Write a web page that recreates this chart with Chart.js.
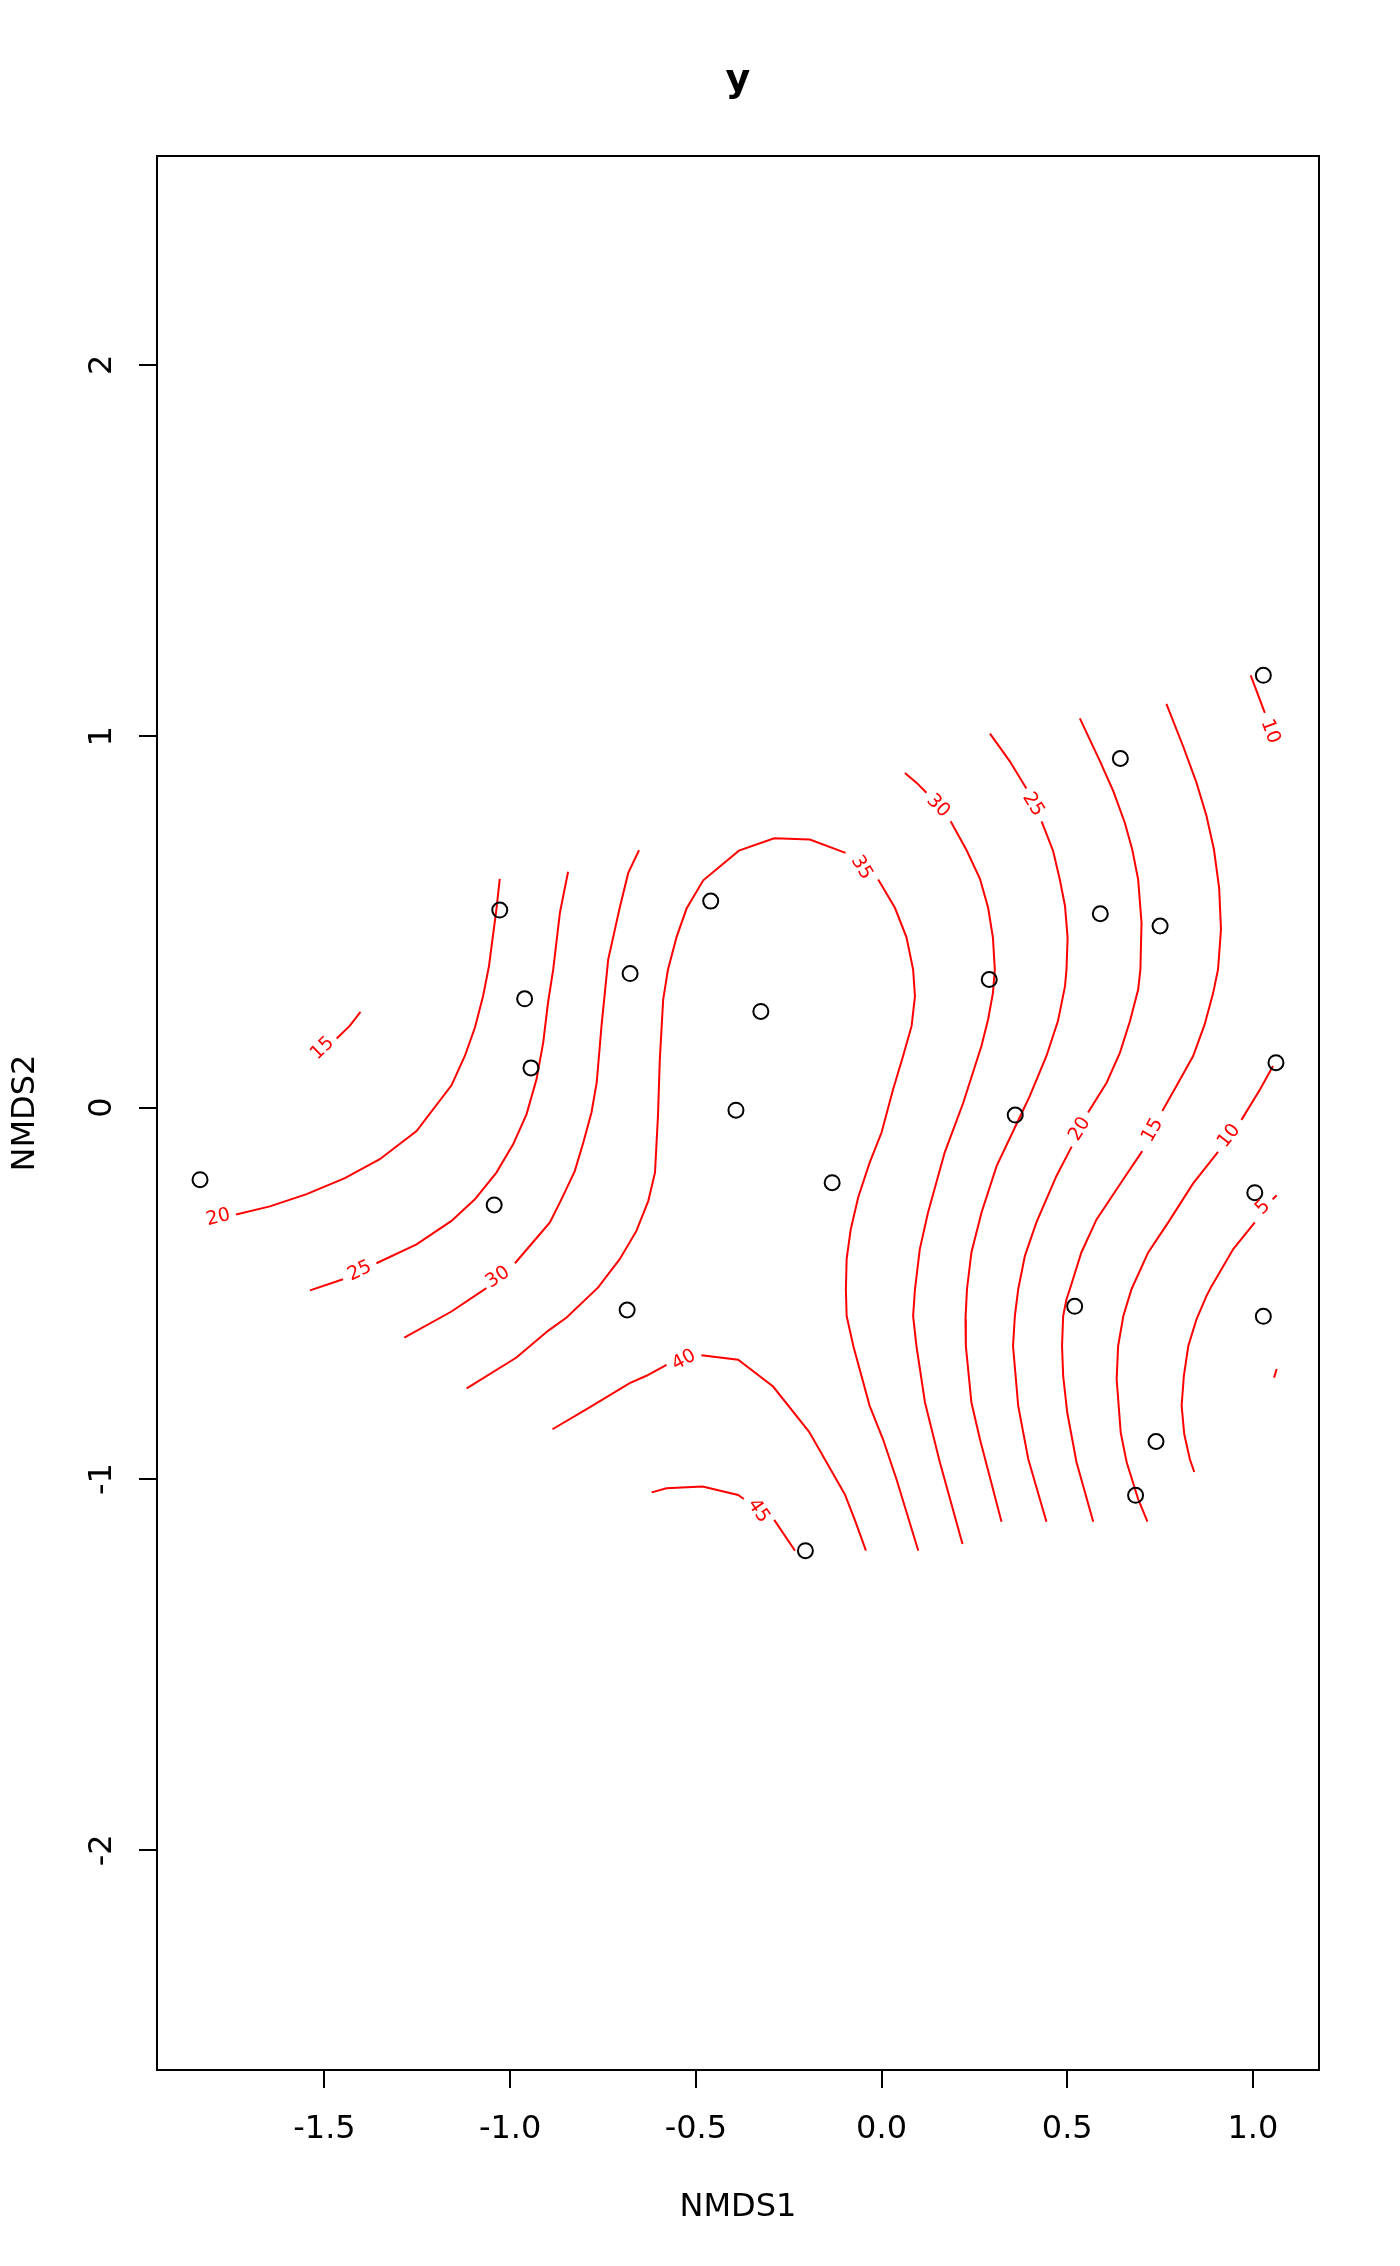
<!DOCTYPE html>
<html>
<head>
<meta charset="utf-8">
<script src="https://cdn.jsdelivr.net/npm/chart.js"></script>
<style>body{margin:0;background:#fff}</style>
</head>
<body>
<canvas id="chart" width="1400" height="2266"></canvas>
<script>
// site scores (NMDS1, NMDS2)
const ptX = [1.028, 0.643, 0.589, 0.750, -1.028, -0.460, -0.677, -0.961, -0.944, -1.835, -1.043, -0.325,
  -0.392, -0.133, 0.290, 0.360, 1.062, 1.005, -0.685, -0.205, 0.520, 1.028, 0.739, 0.684];
const ptY = [1.164, 0.940, 0.522, 0.489, 0.532, 0.556, 0.361, 0.293, 0.107, -0.194, -0.262, 0.259,
  -0.007, -0.202, 0.345, -0.020, 0.121, -0.229, -0.545, -1.193, -0.535, -0.562, -0.899, -1.044];

const xTicks = [-1.5, -1.0, -0.5, 0.0, 0.5, 1.0];
const yTicks = [-2, -1, 0, 1, 2];

// fitted surface contours, split where the labels sit
const lev15a = [[-1.467, 0.186], [-1.432, 0.220], [-1.403, 0.258]];
const lev20L = [[-1.738, -0.288], [-1.647, -0.266], [-1.548, -0.233], [-1.445, -0.190], [-1.351, -0.139],
  [-1.252, -0.063], [-1.158, 0.060], [-1.122, 0.139], [-1.095, 0.215], [-1.073, 0.300], [-1.057, 0.381],
  [-1.037, 0.534], [-1.028, 0.616]];
const lev25La = [[-1.539, -0.492], [-1.450, -0.462]];
const lev25Lb = [[-1.360, -0.419], [-1.252, -0.368], [-1.158, -0.305], [-1.095, -0.247], [-1.037, -0.175],
  [-0.992, -0.099], [-0.956, -0.018], [-0.929, 0.076], [-0.911, 0.175], [-0.898, 0.283], [-0.884, 0.372],
  [-0.866, 0.525], [-0.844, 0.635]];
const lev30La = [[-1.285, -0.619], [-1.158, -0.549], [-1.064, -0.486]];
const lev30Lb = [[-0.987, -0.419], [-0.893, -0.309], [-0.862, -0.247], [-0.826, -0.171], [-0.803, -0.094],
  [-0.781, -0.013], [-0.767, 0.067], [-0.754, 0.220], [-0.736, 0.399], [-0.723, 0.457], [-0.705, 0.538],
  [-0.682, 0.632], [-0.653, 0.693]];
const lev35a = [[-1.117, -0.756], [-0.983, -0.673], [-0.898, -0.601], [-0.848, -0.565], [-0.763, -0.484],
  [-0.705, -0.408], [-0.660, -0.332], [-0.628, -0.251], [-0.610, -0.175], [-0.602, -0.023], [-0.597, 0.130],
  [-0.588, 0.291], [-0.575, 0.372], [-0.552, 0.459], [-0.525, 0.536], [-0.480, 0.612], [-0.384, 0.692],
  [-0.289, 0.725], [-0.193, 0.722], [-0.097, 0.686]];
const lev35b = [[-0.009, 0.614], [0.036, 0.538], [0.067, 0.459], [0.085, 0.372], [0.090, 0.300], [0.081, 0.220],
  [0.058, 0.139], [0.031, 0.049], [0.000, -0.067], [-0.032, -0.148], [-0.063, -0.242], [-0.083, -0.328],
  [-0.094, -0.408], [-0.096, -0.489], [-0.094, -0.561], [-0.076, -0.642], [-0.032, -0.803], [0.004, -0.893],
  [0.040, -1.000], [0.099, -1.193]];
const lev40a = [[-0.886, -0.866], [-0.794, -0.812], [-0.678, -0.742], [-0.633, -0.722], [-0.579, -0.693]];
const lev40b = [[-0.485, -0.667], [-0.386, -0.679], [-0.292, -0.751], [-0.195, -0.873], [-0.099, -1.041],
  [-0.072, -1.110], [-0.042, -1.193]];
const lev45a = [[-0.619, -1.036], [-0.579, -1.025], [-0.482, -1.020], [-0.386, -1.043], [-0.371, -1.054]];
const lev45b = [[-0.289, -1.110], [-0.233, -1.193]];
const lev30Ra = [[0.063, 0.901], [0.094, 0.875], [0.121, 0.848]];
const lev30Rb = [[0.186, 0.771], [0.229, 0.693], [0.265, 0.616], [0.287, 0.538], [0.300, 0.457], [0.305, 0.372],
  [0.300, 0.309], [0.287, 0.238], [0.269, 0.166], [0.220, 0.013], [0.170, -0.121], [0.125, -0.283],
  [0.103, -0.381], [0.090, -0.489], [0.085, -0.561], [0.094, -0.642], [0.117, -0.794], [0.157, -0.955],
  [0.218, -1.175]];
const lev25Ra = [[0.292, 1.007], [0.345, 0.933], [0.390, 0.859]];
const lev25Rb = [[0.431, 0.771], [0.462, 0.691], [0.480, 0.614], [0.494, 0.543], [0.501, 0.457], [0.498, 0.372],
  [0.494, 0.327], [0.475, 0.233], [0.444, 0.139], [0.399, 0.031], [0.375, -0.020], [0.310, -0.157],
  [0.269, -0.283], [0.242, -0.390], [0.230, -0.489], [0.226, -0.570], [0.227, -0.642], [0.242, -0.794],
  [0.265, -0.893], [0.323, -1.115]];
const lev20Ra = [[0.534, 1.048], [0.588, 0.933], [0.624, 0.852], [0.655, 0.767], [0.675, 0.695], [0.691, 0.614],
  [0.700, 0.498], [0.697, 0.372], [0.691, 0.318], [0.669, 0.233], [0.642, 0.148], [0.606, 0.067], [0.556, -0.013]];
const lev20Rb = [[0.512, -0.105], [0.471, -0.184], [0.417, -0.309], [0.386, -0.399], [0.368, -0.489],
  [0.359, -0.561], [0.354, -0.642], [0.368, -0.803], [0.395, -0.946], [0.444, -1.115]];
const lev15Ra = [[0.767, 1.087], [0.812, 0.973], [0.848, 0.875], [0.875, 0.785], [0.895, 0.695], [0.909, 0.592],
  [0.914, 0.480], [0.906, 0.372], [0.893, 0.309], [0.870, 0.224], [0.839, 0.139], [0.794, 0.058], [0.756, -0.009]];
const lev15Rb = [[0.702, -0.117], [0.651, -0.193], [0.579, -0.301], [0.538, -0.390], [0.507, -0.489],
  [0.498, -0.516], [0.489, -0.561], [0.486, -0.642], [0.489, -0.722], [0.500, -0.821], [0.525, -0.955],
  [0.570, -1.115]];
const lev10Ra = [[1.054, 0.112], [1.019, 0.049], [0.969, -0.033]];
const lev10Rb = [[0.906, -0.119], [0.839, -0.204], [0.772, -0.309], [0.718, -0.390], [0.673, -0.489],
  [0.651, -0.561], [0.637, -0.642], [0.633, -0.731], [0.644, -0.875], [0.660, -0.955], [0.691, -1.054],
  [0.716, -1.115]];
const lev10T = [[0.994, 1.164], [1.032, 1.063]];
const lev5a = [[1.053, -0.247], [1.064, -0.236]];
const lev5b = [[1.005, -0.309], [0.947, -0.381], [0.889, -0.480], [0.875, -0.507], [0.848, -0.570],
  [0.826, -0.642], [0.814, -0.722], [0.808, -0.803], [0.815, -0.879], [0.830, -0.946], [0.842, -0.981]];
const lev5c = [[1.057, -0.727], [1.064, -0.704]];

const segs = [lev15a, lev20L, lev25La, lev25Lb, lev30La, lev30Lb, lev35a, lev35b, lev40a, lev40b, lev45a, lev45b,
  lev30Ra, lev30Rb, lev25Ra, lev25Rb, lev20Ra, lev20Rb, lev15Ra, lev15Rb, lev10Ra, lev10Rb, lev10T,
  lev5a, lev5b, lev5c];
const segLevel = ['15', '20', '25', '25', '30', '30', '35', '35', '40', '40', '45', '45',
  '30', '30', '25', '25', '20', '20', '15', '15', '10', '10', '10', '5', '5', '5'];

// contour labels
const labText = ['15', '20', '25', '30', '35', '40', '45', '30', '25', '20', '15', '10', '10', '5'];
const labX = [-1.505, -1.786, -1.405, -1.033, -0.054, -0.532, -0.332, 0.152, 0.408, 0.534, 0.730, 0.936, 1.046, 1.027];
const labY = [0.159, -0.296, -0.440, -0.457, 0.646, -0.680, -1.086, 0.812, 0.816, -0.058, -0.061, -0.076, 1.013, -0.269];

const FONT = 'DejaVu Sans';
const RED = '#ff0000';

// R style axis limits: 4% extension, y stretched for asp = 1
const plotW = 1162, plotH = 1914;
const xPad = (Math.max(...ptX) - Math.min(...ptX)) * 0.04;
const xMin = Math.min(...ptX) - xPad, xMax = Math.max(...ptX) + xPad;
const yMid = (Math.min(...ptY) + Math.max(...ptY)) / 2;
const yHalf = (xMax - xMin) * plotH / plotW / 2;

const datasets = [{
  label: 'sites',
  data: ptX.map((x, i) => ({x: x, y: ptY[i]})),
  pointRadius: 7.5,
  pointBorderWidth: 2,
  pointBorderColor: '#000',
  pointBackgroundColor: 'rgba(0,0,0,0)',
  showLine: false
}];
segs.forEach((s, i) => datasets.push({
  label: 'level ' + segLevel[i],
  data: s.map(p => ({x: p[0], y: p[1]})),
  showLine: true,
  borderColor: RED,
  borderWidth: 2,
  pointRadius: 0,
  tension: 0
}));

// box round the plot region and the title
const frame = {
  id: 'frame',
  afterDraw(chart) {
    const {ctx, chartArea: a} = chart;
    ctx.save();
    ctx.strokeStyle = '#000';
    ctx.lineWidth = 2;
    ctx.strokeRect(a.left, a.top, a.right - a.left, a.bottom - a.top);
    ctx.fillStyle = '#000';
    ctx.font = 'bold 38px "' + FONT + '"';
    ctx.textAlign = 'center';
    ctx.textBaseline = 'alphabetic';
    ctx.fillText('y', (a.left + a.right) / 2, 91);
    ctx.restore();
  }
};

// inline contour labels, turned along the line
const contourLabels = {
  id: 'contourLabels',
  afterDatasetsDraw(chart) {
    const {ctx, scales: {x, y}} = chart;
    ctx.save();
    ctx.fillStyle = RED;
    ctx.font = '19px "' + FONT + '"';
    ctx.textAlign = 'center';
    ctx.textBaseline = 'middle';
    labText.forEach((t, i) => {
      const lx = x.getPixelForValue(labX[i]), ly = y.getPixelForValue(labY[i]);
      let best = null, bd = Infinity;
      segs.forEach((s, j) => {
        if (segLevel[j] !== t) return;
        s.forEach((p, k) => {
          const d = Math.hypot(x.getPixelForValue(p[0]) - lx, y.getPixelForValue(p[1]) - ly);
          if (d < bd) { bd = d; best = [s, k]; }
        });
      });
      let ang = 0;
      if (best) {
        const [s, k] = best;
        const q = k === 0 ? s[1] : s[k - 1];
        const p = s[k];
        ang = Math.atan2(y.getPixelForValue(q[1]) - y.getPixelForValue(p[1]),
          x.getPixelForValue(q[0]) - x.getPixelForValue(p[0]));
        if (ang > Math.PI / 2) ang -= Math.PI;
        if (ang < -Math.PI / 2) ang += Math.PI;
      }
      ctx.save();
      ctx.translate(lx, ly);
      ctx.rotate(ang);
      ctx.fillText(t, 0, 0);
      ctx.restore();
    });
    ctx.restore();
  }
};

new Chart(document.getElementById('chart'), {
  type: 'scatter',
  data: {datasets: datasets},
  plugins: [frame, contourLabels],
  options: {
    responsive: false,
    devicePixelRatio: 1,
    animation: false,
    events: [],
    layout: {padding: {top: 156, right: 81, left: 0, bottom: 0}},
    plugins: {legend: {display: false}, tooltip: {enabled: false}, title: {display: false}},
    scales: {
      x: {
        type: 'linear',
        min: xMin,
        max: xMax,
        afterFit(s) { s.height = 196; },
        afterBuildTicks(s) { s.ticks = xTicks.map(v => ({value: v})); },
        ticks: {
          callback: v => v.toFixed(1),
          font: {family: FONT, size: 32},
          color: '#000',
          padding: 22,
          autoSkip: false,
          maxRotation: 0,
          minRotation: 0
        },
        grid: {drawOnChartArea: false, drawTicks: true, tickLength: 18, color: '#000', lineWidth: 2},
        border: {display: true, color: '#000', width: 2},
        title: {display: true, text: 'NMDS1', color: '#000', font: {family: FONT, size: 32},
          padding: {top: 0, bottom: 39}}
      },
      y: {
        type: 'linear',
        min: yMid - yHalf,
        max: yMid + yHalf,
        afterFit(s) { s.width = 157; },
        afterBuildTicks(s) { s.ticks = yTicks.map(v => ({value: v})); },
        ticks: {
          callback: v => String(v),
          font: {family: FONT, size: 32},
          color: '#000',
          padding: 20,
          autoSkip: false,
          minRotation: 90,
          maxRotation: 90,
          crossAlign: 'center'
        },
        grid: {drawOnChartArea: false, drawTicks: true, tickLength: 18, color: '#000', lineWidth: 2},
        border: {display: true, color: '#000', width: 2},
        title: {display: true, text: 'NMDS2', color: '#000', font: {family: FONT, size: 32},
          padding: {top: 6, bottom: 0}}
      }
    }
  }
});
</script>
</body>
</html>
